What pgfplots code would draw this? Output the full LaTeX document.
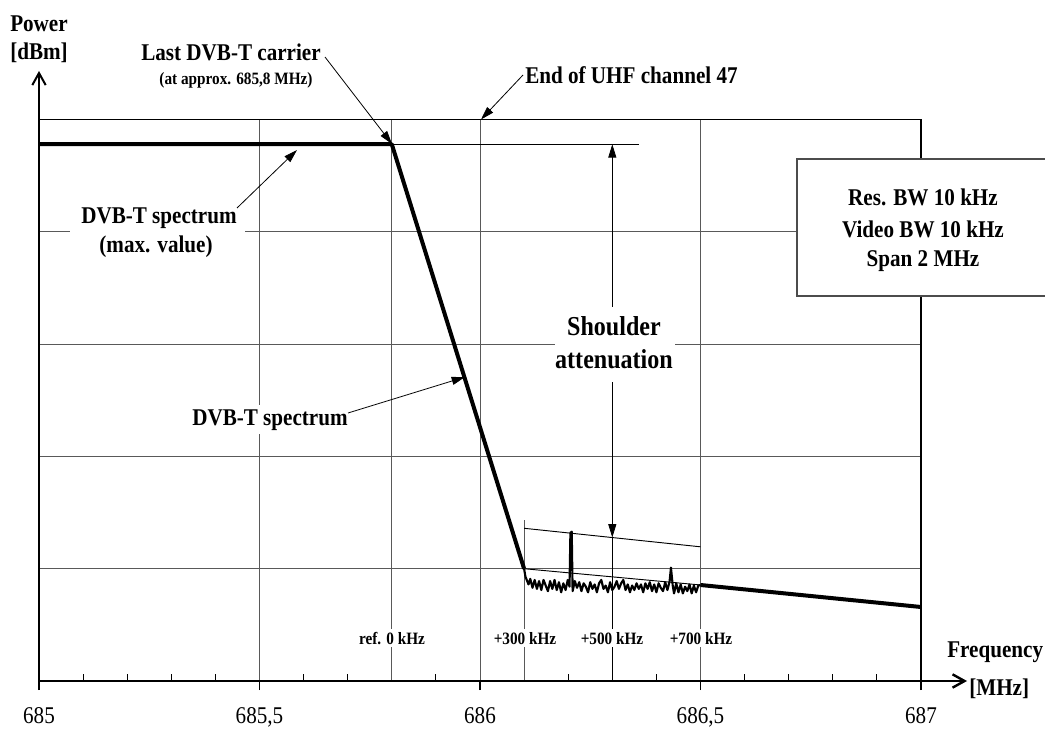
\documentclass[border=0pt]{standalone}
\usepackage{fontspec}
\setmainfont{Liberation Serif}[FakeStretch=0.88]
\usepackage{pgfplots}
\pgfplotsset{compat=1.18}
\usetikzlibrary{arrows.meta}
\newcommand{\fA}{\bfseries\fontsize{18}{20}\selectfont}
\newcommand{\fS}{\bfseries\fontsize{13}{14}\selectfont}
\newcommand{\fL}{\bfseries\fontsize{20.5}{22}\selectfont}
\begin{document}
\begin{tikzpicture}
\begin{axis}[
  at={(0,0)}, anchor=south west,
  scale only axis, width=661.5pt, height=421.1pt,
  xmin=685, xmax=687, ymin=0, ymax=50,
  axis line style={line width=1.1pt},
  xtick={685,685.5,686,686.5,687},
  xticklabels={685,{685,5},686,{686,5},687},
  minor x tick num=4,
  ytick={10,20,30,40}, yticklabels={},
  ytick style={draw=none},
  xtick pos=bottom, ytick pos=left,
  tick align=outside,
  major tick length=6.75pt,
  minor tick length=-5.25pt,
  tick style={black, line width=0.8pt},
  xmajorgrids, ymajorgrids,
  grid style={black!65, line width=0.7pt},
  xticklabel style={font=\fontsize{18}{20}\selectfont, yshift=-9.5pt},
  clip=false,
]
% extra vertical marker lines
\draw[black!65, line width=0.7pt] (axis cs:685.8,0) -- (axis cs:685.8,50);
\draw[black!65, line width=0.7pt] (axis cs:686.1,0) -- (axis cs:686.1,14.3);
\draw[black, line width=0.6pt] (axis cs:686.3,0) -- (axis cs:686.3,12.78);
% reference lines
\addplot[black, line width=0.7pt] coordinates {(685.8,47.8) (686.36,47.8)};
\addplot[black, line width=0.7pt] coordinates {(686.1,10.0) (686.5,8.55)};
\addplot[black, line width=0.7pt] coordinates {(686.1,13.6) (686.5,11.95)};
% shoulder arrows
\draw[black, line width=0.6pt, -{Triangle[length=10pt,width=6pt]}] (axis cs:686.3,33.3) -- (axis cs:686.3,47.8);
\draw[black, line width=0.6pt, -{Triangle[length=10pt,width=6pt]}] (axis cs:686.3,26.6) -- (axis cs:686.3,12.78);
% spectrum (max. value) and slope
\addplot[black, line width=3pt, line join=round] coordinates {(685,47.8) (685.8,47.8) (686.1,10.0)};
% measured spectrum noise
\addplot[black, line width=1.6pt, line join=round] coordinates {
(686.100,10.0) (686.103,9.3) (686.106,9.0) (686.110,8.6) (686.114,9.1) (686.119,8.3)
(686.124,9.0) (686.129,8.2) (686.134,8.9) (686.139,8.1) (686.144,9.0) (686.149,8.5)
(686.154,8.0) (686.159,8.9) (686.164,8.2) (686.169,9.0) (686.174,8.1) (686.179,8.8)
(686.184,7.9) (686.189,8.7) (686.194,8.1) (686.199,9.0) (686.203,8.4) (686.205,13.2)
(686.208,13.3) (686.210,8.0) (686.215,8.9) (686.220,8.3) (686.225,8.8) (686.230,8.0)
(686.235,8.7) (686.240,8.4) (686.245,7.9) (686.250,8.8) (686.255,8.2) (686.260,8.6)
(686.265,7.9) (686.270,8.7) (686.275,9.0) (686.280,8.2) (686.285,8.5) (686.290,7.9)
(686.295,8.8) (686.300,8.1) (686.305,8.4) (686.310,8.9) (686.315,8.2) (686.320,8.7)
(686.325,9.0) (686.330,8.1) (686.335,8.6) (686.340,7.9) (686.345,8.5) (686.350,8.1)
(686.355,8.7) (686.360,8.2) (686.365,8.6) (686.370,7.9) (686.375,8.7) (686.380,8.2)
(686.385,8.8) (686.390,8.0) (686.395,8.6) (686.400,7.9) (686.405,8.7) (686.410,8.3)
(686.415,8.0) (686.420,8.8) (686.425,8.1) (686.430,8.9) (686.433,10.1) (686.437,8.5)
(686.440,7.8) (686.445,8.7) (686.450,7.9) (686.455,8.6) (686.460,7.8) (686.465,8.4)
(686.470,8.0) (686.475,8.6) (686.480,7.8) (686.485,8.5) (686.490,7.9) (686.495,8.5)
(686.500,8.55)};
\addplot[black, line width=3pt] coordinates {(686.5,8.55) (687,6.59)};
\end{axis}
\begin{scope}[x=0.75pt, y=-0.75pt, shift={(-29.25pt,510.75pt)}]
  % axes with open arrows
  \draw[line width=1.5pt, -{Straight Barb[length=9pt,width=10pt]}] (39,681) -- (39,71);
  \draw[line width=1.8pt, -{Straight Barb[length=9pt,width=10pt]}] (39,681) -- (967,681);
  \node[font=\fA, anchor=base] at (39,32) {Power};
  \node[font=\fA, anchor=base] at (39,60) {[dBm]};
  \node[font=\fA, anchor=base west, inner sep=0pt] at (947,657) {Frequency};
  \node[font=\fA, anchor=base west, inner sep=0pt] at (969,695) {[MHz]};
  % last carrier
  \node[font=\fA, anchor=base] at (231,61) {Last DVB-T carrier};
  \node[font=\fS, anchor=base] at (236,85) {(at approx. 685,8 MHz)};
  \draw[line width=0.6pt, -{Triangle[length=10pt,width=6pt]}] (325,57) -- (392,144);
  % end of channel
  \node[font=\fA, anchor=base west, inner sep=0pt] at (525,84) {End of UHF channel 47};
  \draw[line width=0.6pt, -{Triangle[length=10pt,width=6pt]}] (523,75) -- (481,119.5);
  % DVB-T spectrum (max. value)
  \fill[white] (70,205) rectangle (245,260);
  \node[font=\fA, anchor=base] at (159,224) {DVB-T spectrum};
  \node[font=\fA, anchor=base] at (156,253) {(max. value)};
  \draw[line width=0.6pt, -{Triangle[length=10pt,width=6pt]}] (237,208) -- (297,150);
  % DVB-T spectrum
  \node[font=\fA, anchor=base, fill=white, inner sep=3pt] at (270,425) {DVB-T spectrum};
  \draw[line width=0.6pt, -{Triangle[length=10pt,width=6pt]}] (348,413) -- (465,377);
  % shoulder attenuation
  \fill[white] (555,307) rectangle (675,382);
  \node[font=\fL, anchor=base] at (614,335) {Shoulder};
  \node[font=\fL, anchor=base] at (614,368) {attenuation};
  % settings box
  \fill[white] (797,159) rectangle (1050,296);
  \draw[black!70, line width=0.8pt] (1050,159) -- (797,159) -- (797,296) -- (1050,296);
  \node[font=\fA, anchor=base] at (923,206) {Res. BW 10 kHz};
  \node[font=\fA, anchor=base] at (923,238) {Video BW 10 kHz};
  \node[font=\fA, anchor=base] at (923,267) {Span 2 MHz};
  % frequency offset labels
  \node[font=\fS, anchor=base, fill=white, inner sep=2pt] at (392,644) {ref. 0 kHz};
  \node[font=\fS, anchor=base, fill=white, inner sep=2pt] at (525,644) {+300 kHz};
  \node[font=\fS, anchor=base, fill=white, inner sep=2pt] at (612,644) {+500 kHz};
  \node[font=\fS, anchor=base, fill=white, inner sep=2pt] at (701,644) {+700 kHz};
  \pgfresetboundingbox
  \path[use as bounding box] (0,0) rectangle (1045,729);
\end{scope}
\end{tikzpicture}
\end{document}
